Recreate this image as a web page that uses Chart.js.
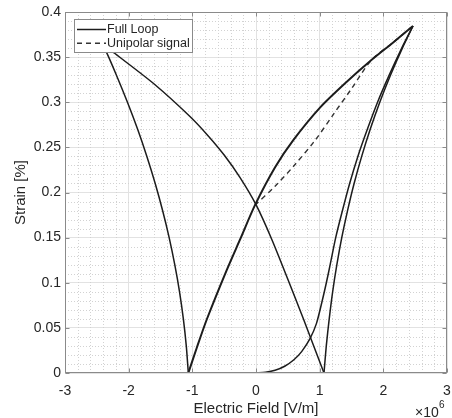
<!DOCTYPE html>
<html>
<head>
<meta charset="utf-8">
<script src="https://cdn.jsdelivr.net/npm/chart.js@4"></script>
<style>
  html, body { margin: 0; padding: 0; background: #fff; }
</style>
</head>
<body>
<canvas id="chart" width="452" height="418"></canvas>
<script>
// ---------- data (field in 1e6 V/m, strain in %) ----------
const virginE = [0, 0.15, 0.3, 0.45, 0.6, 0.72, 0.848, 0.95, 1.04, 1.105, 1.165, 1.252, 1.358, 1.471, 1.6, 1.749, 1.909, 2.092, 2.289, 2.466];
const virginS = [0, 0.0008, 0.003, 0.0075, 0.015, 0.024, 0.038, 0.055, 0.08, 0.1, 0.12, 0.15, 0.18, 0.21, 0.24, 0.27, 0.3, 0.33, 0.36, 0.3845];

const upperE = [2.466, 2.15, 1.817, 1.4, 1.005, 0.586, 0.3, -0.016, -0.25, -0.46, -0.775, -0.93, -1.063];
const upperS = [0.3845, 0.366, 0.347, 0.321, 0.294, 0.258, 0.228, 0.186, 0.148, 0.114, 0.059, 0.028, 0];

const leftSteepE = [-1.063, -1.095, -1.141, -1.201, -1.276, -1.364, -1.467, -1.583, -1.714, -1.859, -2.019, -2.192, -2.346, -2.444];
const leftSteepS = [0, 0.03, 0.06, 0.09, 0.12, 0.15, 0.18, 0.21, 0.24, 0.27, 0.3, 0.33, 0.355, 0.367];

const leftDescE = [-2.444, -2.215, -1.6, -1.037, -0.75, -0.5, -0.25, 0, 0.25, 0.5, 0.75, 1.068];
const leftDescS = [0.367, 0.354, 0.3202, 0.2842, 0.2627, 0.2415, 0.2165, 0.1865, 0.1477, 0.1039, 0.0589, 0];

const cuspE = [1.068, 1.104, 1.15, 1.204, 1.27, 1.347, 1.438, 1.541, 1.66, 1.794, 1.944, 2.112, 2.299, 2.466];
const cuspS = [0, 0.03, 0.06, 0.09, 0.12, 0.15, 0.18, 0.21, 0.24, 0.27, 0.3, 0.33, 0.36, 0.3845];

const unipolarE = [-0.016, 0.3, 0.6, 0.93, 1.2, 1.5, 1.817, 2.15, 2.466];
const unipolarS = [0.186, 0.207, 0.23, 0.258, 0.285, 0.315, 0.347, 0.366, 0.3845];

const xTicks = [-3, 3];
const yTicks = [0, 0.4];
const LABELS = ["Full Loop", "Unipolar signal"];

// ---------- helpers ----------
const zip = (xs, ys) => xs.map((v, i) => ({ x: v, y: ys[i] }));
const INK = "#262626";
const FONT = "'Liberation Sans', Arial, Helvetica, sans-serif";

function branch(xs, ys, w) {
  return {
    label: LABELS[0],
    data: zip(xs, ys),
    borderColor: "#1c1c1c",
    borderWidth: w || 1.5,
    pointRadius: 0,
    showLine: true,
    tension: 0.25,
    fill: false,
  };
}

// minor grid, box, inner ticks, legend, exponent label (MATLAB look)
const matlabBox = {
  id: "matlabBox",
  beforeDatasetsDraw(chart) {
    const { ctx, chartArea: a, scales } = chart;
    const x = scales.x, y = scales.y;
    ctx.save();
    ctx.strokeStyle = "#d2d2d2";
    ctx.lineWidth = 1;
    ctx.setLineDash([1, 2]);
    for (let k = -15; k <= 15; k++) {
      if (k % 5 === 0) continue;
      const px = Math.round(x.getPixelForValue(k / 5)) + 0.5;
      ctx.beginPath();
      ctx.moveTo(px, a.top);
      ctx.lineTo(px, a.bottom);
      ctx.stroke();
    }
    for (let k = 1; k < 40; k++) {
      if (k % 5 === 0) continue;
      const py = Math.round(y.getPixelForValue(k / 100)) + 0.5;
      ctx.beginPath();
      ctx.moveTo(a.left, py);
      ctx.lineTo(a.right, py);
      ctx.stroke();
    }
    ctx.restore();
  },
  afterDraw(chart) {
    const { ctx, chartArea: a, scales } = chart;
    const x = scales.x, y = scales.y;
    ctx.save();
    // box
    ctx.strokeStyle = "#8a8a8a";
    ctx.lineWidth = 1;
    const L = Math.round(a.left) + 0.5, R = Math.round(a.right) - 0.5;
    const T = Math.round(a.top) + 0.5, B = Math.round(a.bottom) - 0.5;
    ctx.strokeRect(L, T, R - L, B - T);
    // inner ticks
    ctx.beginPath();
    for (let v = xTicks[0]; v <= xTicks[1]; v++) {
      const px = Math.round(x.getPixelForValue(v)) + 0.5;
      ctx.moveTo(px, B); ctx.lineTo(px, B - 4);
      ctx.moveTo(px, T); ctx.lineTo(px, T + 4);
    }
    for (let k = 0; k <= 8; k++) {
      const py = Math.round(y.getPixelForValue(k * 0.05)) + 0.5;
      ctx.moveTo(L, py); ctx.lineTo(L + 4, py);
      ctx.moveTo(R, py); ctx.lineTo(R - 4, py);
    }
    ctx.stroke();

    // legend
    const lx = a.left + 9, ly = a.top + 7, lw = 118, lh = 33;
    ctx.fillStyle = "#fff";
    ctx.fillRect(lx, ly, lw, lh);
    ctx.strokeStyle = "#8a8a8a";
    ctx.strokeRect(Math.round(lx) + 0.5, Math.round(ly) + 0.5, lw, lh);
    const rows = [ly + 10.5, ly + 24.3];
    ctx.font = "12.5px " + FONT;
    ctx.textBaseline = "middle";
    ctx.fillStyle = INK;
    LABELS.forEach((t, i) => {
      ctx.beginPath();
      ctx.strokeStyle = i === 0 ? "#1c1c1c" : "#333";
      ctx.lineWidth = 1.5;
      ctx.setLineDash(i === 0 ? [] : [5, 4]);
      ctx.moveTo(lx + 3, rows[i]);
      ctx.lineTo(lx + 32, rows[i]);
      ctx.stroke();
      ctx.setLineDash([]);
      ctx.fillText(t, lx + 33, rows[i]);
    });

    // x10^6
    ctx.fillStyle = INK;
    ctx.textBaseline = "alphabetic";
    ctx.font = "14px " + FONT;
    ctx.fillText("\u00d710", 415, 417);
    ctx.font = "10px " + FONT;
    ctx.fillText("6", 439, 408);
    ctx.restore();
  },
};

// ---------- chart ----------
const datasets = [
  branch(virginE, virginS),
  branch(upperE, upperS, 2),
  branch(leftSteepE, leftSteepS),
  branch(leftDescE, leftDescS),
  branch(cuspE, cuspS),
  {
    label: LABELS[1],
    data: zip(unipolarE, unipolarS),
    borderColor: "#333",
    borderWidth: 1.4,
    borderDash: [5, 4],
    pointRadius: 0,
    showLine: true,
    tension: 0.3,
    fill: false,
  },
];

new Chart(document.getElementById("chart").getContext("2d"), {
  type: "scatter",
  data: { datasets },
  options: {
    responsive: false,
    animation: false,
    devicePixelRatio: 1,
    layout: { padding: { top: 12, right: 5, left: 0, bottom: 0 } },
    plugins: { legend: { display: false }, tooltip: { enabled: false } },
    scales: {
      x: {
        type: "linear",
        min: xTicks[0],
        max: xTicks[1],
        afterFit: (s) => { s.height = 45; },
        border: { display: false },
        // invisible tick marks give the label gap without widening the layout padding
        grid: { color: "#e2e2e2", drawTicks: true, tickLength: 10, tickColor: "rgba(0,0,0,0)" },
        ticks: {
          stepSize: 1,
          padding: 0,
          color: INK,
          font: { family: FONT, size: 14 },
        },
        title: {
          display: true,
          text: "Electric Field [V/m]",
          color: INK,
          font: { family: FONT, size: 15 },
          padding: { top: 0, bottom: 0 },
        },
      },
      y: {
        type: "linear",
        min: yTicks[0],
        max: yTicks[1],
        afterFit: (s) => { s.width = 65; },
        border: { display: false },
        grid: { color: "#e2e2e2", drawTicks: true, tickLength: 4, tickColor: "rgba(0,0,0,0)" },
        ticks: {
          stepSize: 0.05,
          padding: 0,
          color: INK,
          font: { family: FONT, size: 14 },
          callback: (v) => String(+(+v).toFixed(2)),
        },
        title: {
          display: true,
          text: "Strain [%]",
          color: INK,
          font: { family: FONT, size: 15 },
          padding: { top: 12, bottom: 0 },
        },
      },
    },
  },
  plugins: [matlabBox],
});
</script>
</body>
</html>
